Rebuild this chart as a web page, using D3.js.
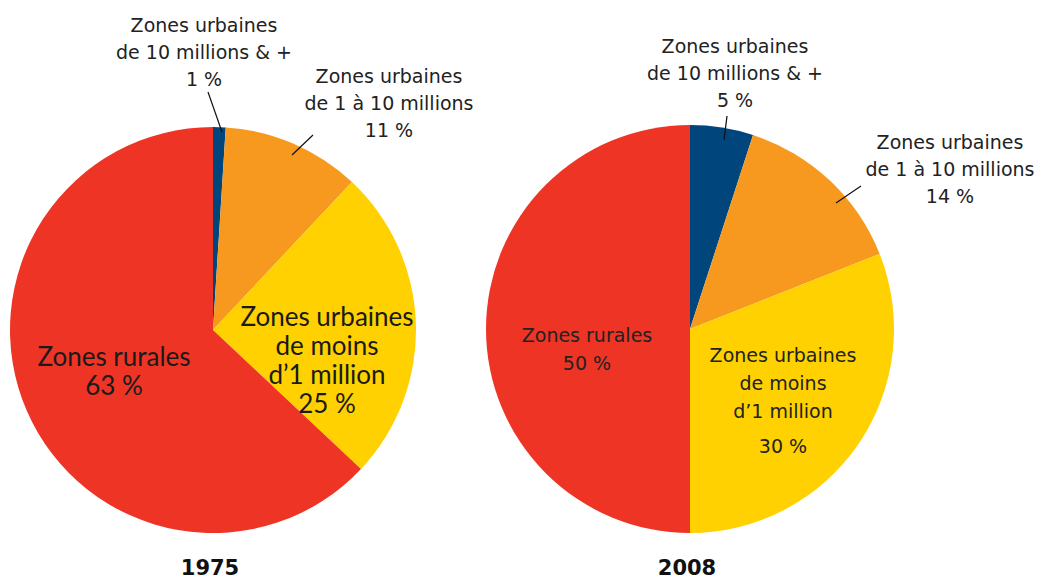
<!DOCTYPE html>
<html>
<head>
<meta charset="utf-8">
<script src="https://cdn.jsdelivr.net/npm/d3@7"></script>
<style>
  body { margin: 0; background: #fff; }
  .lbl { font-family: 'DejaVu Sans', sans-serif; font-size: 19px; fill: #222; }
  .lbl-in { font-family: 'Lato', 'Noto Sans', sans-serif; font-size: 26px; fill: #1a1a1a; }
  .year { font-family: 'DejaVu Sans', sans-serif; font-size: 21px; font-weight: bold; fill: #111; }
</style>
</head>
<body>
<script>
// urban / rural population shares, 1975 vs 2008

// categories in drawing order (clockwise from 12 o'clock)
var categories = ['10m', '1to10m', 'under1m', 'rural']
var years = ['1975', '2008']
// shares as drawn (2008 yellow slice reaches exactly half way round)
var shares1975 = [1, 11, 25, 63]
var shares2008 = [5, 14, 31, 50]
// printed labels
var pct1975 = ['1 %', '11 %', '25 %', '63 %']
var pct2008 = ['5 %', '14 %', '30 %', '50 %']
var names = {
  '10m': ['Zones urbaines', 'de 10 millions & +'],
  '1to10m': ['Zones urbaines', 'de 1 à 10 millions'],
  'under1m': ['Zones urbaines', 'de moins', 'd\u20191 million'],
  'rural': ['Zones rurales']
}

var width = 1050
var height = 580

var svg = d3.select('body')
  .append('svg')
  .attr('width', width)
  .attr('height', height)

var colour = d3.scaleOrdinal()
  .domain(categories)
  .range(['#00457c', '#f7991f', '#ffd100', '#ee3425'])

var pie = d3.pie().sort(null).value(function (d) { return d.v })

// pies: centre, radius and label layout (offsets from centre)
var charts = [
  {
    year: years[0], shares: shares1975, pct: pct1975, cx: 213, cy: 330, r: 203,
    labels: {
      '10m': { x: -9, y: -298, cls: 'lbl', dy: 27 },
      '1to10m': { x: 176, y: -247, cls: 'lbl', dy: 27 },
      'under1m': { x: 114, y: -4, cls: 'lbl-in', dy: 29 },
      'rural': { x: -99, y: 36, cls: 'lbl-in', dy: 29 }
    },
    leaders: { '10m': [[-5, -238], [9, -198]], '1to10m': [[100, -195], [79, -175]] }
  },
  {
    year: years[1], shares: shares2008, pct: pct2008, cx: 690, cy: 329, r: 204,
    labels: {
      '10m': { x: 45, y: -276, cls: 'lbl', dy: 27 },
      '1to10m': { x: 260, y: -180, cls: 'lbl', dy: 27 },
      'under1m': { x: 93, y: 33, cls: 'lbl', dy: 28, gap: 7 },
      'rural': { x: -103, y: 13, cls: 'lbl', dy: 28 }
    },
    leaders: { '10m': [[37, -213], [34, -189]], '1to10m': [[171, -143], [146, -126]] }
  }
]

charts.forEach(function (c) {
  var data = categories.map(function (k, i) {
    return { k: k, v: c.shares[i], pct: c.pct[i] }
  })
  var arc = d3.arc().innerRadius(0).outerRadius(c.r)

  var g = svg.append('g')
    .attr('transform', 'translate(' + c.cx + ',' + c.cy + ')')

  g.selectAll('path')
    .data(pie(data))
    .enter()
    .append('path')
    .attr('d', arc)
    .attr('fill', function (d) { return colour(d.data.k) })

  // leader lines
  Object.keys(c.leaders).forEach(function (k) {
    var p = c.leaders[k]
    g.append('line')
      .attr('x1', p[0][0]).attr('y1', p[0][1])
      .attr('x2', p[1][0]).attr('y2', p[1][1])
      .attr('stroke', '#111')
      .attr('stroke-width', 1.2)
  })

  // labels
  data.forEach(function (d) {
    var L = c.labels[d.k]
    var lines = names[d.k].concat([d.pct])
    var t = g.append('text')
      .attr('class', L.cls)
      .attr('text-anchor', 'middle')
      .attr('x', L.x)
      .attr('y', L.y)
    lines.forEach(function (s, i) {
      var extra = (i === lines.length - 1 && L.gap) ? L.gap : 0
      t.append('tspan')
        .attr('x', L.x)
        .attr('dy', i === 0 ? 0 : L.dy + extra)
        .text(s)
    })
  })

  svg.append('text')
    .attr('class', 'year')
    .attr('text-anchor', 'middle')
    .attr('x', c.cx - 3)
    .attr('y', 575)
    .text(c.year)
})
</script>
</body>
</html>
